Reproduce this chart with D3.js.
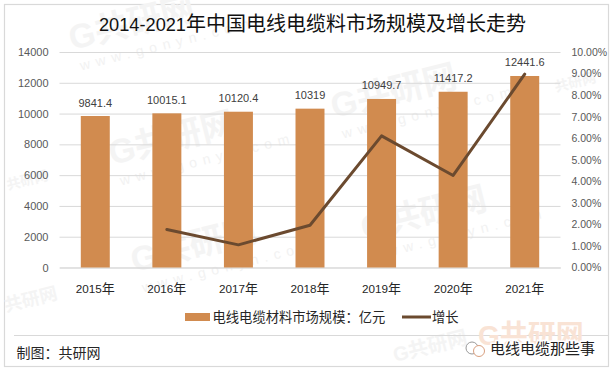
<!DOCTYPE html>
<html><head><meta charset="utf-8">
<script src="https://cdn.jsdelivr.net/npm/d3@7/dist/d3.min.js"></script>
<style>html,body{margin:0;padding:0;background:#fff}svg{display:block}
text{font-family:"Liberation Sans","Noto Sans CJK SC",sans-serif}</style>
</head><body><div id="c"></div>
<script>
const years=["2015年","2016年","2017年","2018年","2019年","2020年","2021年"];
const marketSize=[9841.4,10015.1,10120.4,10319,10949.7,11417.2,12441.6];
const marketLabels=["9841.4","10015.1","10120.4","10319","10949.7","11417.2","12441.6"];
const growthYears=["2016年","2017年","2018年","2019年","2020年","2021年"];
const growth=[1.76,1.05,1.96,6.11,4.27,8.97];
const leftTicks=[0,2000,4000,6000,8000,10000,12000,14000];
const rightTicks=[0,1,2,3,4,5,6,7,8,9,10];
const titleLatin="2014-2021";
const titleCjk="年中国电线电缆料市场规模及增长走势";
const seriesNames=["电线电缆材料市场规模：亿元","增长"];
const source="制图：共研网";
const credit="电线电缆那些事";
const wmMain="G共研网";
const wmUrl="www.gonyn.com";
const wmMarks=[[72,50,34],[112,165,34],[134,272,34],[334,118,34],[364,240,34],[6,312,18],[556,92,14],[395,362,20],[8,190,14]];

const W=615,H=375,barCol="#d18b4f",lineCol="#6b4a2f";
const svg=d3.select("#c").append("svg").attr("width",W).attr("height",H);
svg.append("rect").attr("x",4.5).attr("y",4.5).attr("width",604).attr("height",362)
  .attr("fill","#fff").attr("stroke","#d9d9d9").attr("stroke-width",1.2);

// watermarks
const wm=svg.append("g").attr("pointer-events","none");
wmMarks.forEach(([x,y,s])=>{
  const g=wm.append("g").attr("transform",`translate(${x},${y}) rotate(-14)`);
  g.append("text").attr("font-size",s).attr("font-weight",700).attr("fill","#f4f4f4").text(s<20?wmMain.slice(1):wmMain);
  if(s>30) g.append("text").attr("y",22).attr("x",4).attr("font-size",14).attr("letter-spacing",6).attr("fill","#f2f2f2").text(wmUrl);
});

const m={l:59.5,r:560.5,t:52,b:267.5};
const x=d3.scaleBand().domain(years).range([m.l,m.r]).paddingInner(0.595).paddingOuter(0.2975);
const y=d3.scaleLinear().domain([0,14000]).range([m.b,m.t]);
const y2=d3.scaleLinear().domain([0,10]).range([m.b,m.t]);
const cx=d=>x(d)+x.bandwidth()/2;

const t=svg.append("text").attr("x",312.5).attr("y",31).attr("text-anchor","middle").attr("font-size",20).attr("fill","#111");
t.append("tspan").attr("font-size",18.2).text(titleLatin);
t.append("tspan").text(titleCjk);

const gl=svg.append("g").attr("transform",`translate(${m.l},0)`)
  .call(d3.axisLeft(y).tickValues(leftTicks).tickSize(-(m.r-m.l)).tickPadding(11).tickFormat(d3.format("d")));
gl.select(".domain").remove();
gl.selectAll("line").attr("stroke","#d9d9d9").attr("stroke-width",1);
gl.selectAll("text").attr("font-size",11).attr("fill","#595959");

const gr=svg.append("g").attr("transform",`translate(${m.r},0)`)
  .call(d3.axisRight(y2).tickValues(rightTicks).tickSize(0).tickPadding(11).tickFormat(d=>d3.format(".2f")(d)+"%"));
gr.select(".domain").remove();
gr.selectAll("text").attr("font-size",10.5).attr("fill","#595959");

const gx=svg.append("g").attr("transform",`translate(0,${m.b})`)
  .call(d3.axisBottom(x).tickSize(0).tickPadding(16));
gx.select(".domain").attr("stroke","#d9d9d9");
gx.selectAll("text").attr("font-size",13).attr("fill","#262626")
  .each(function(d){
    const s=d3.select(this).text("");
    s.append("tspan").attr("font-size",11.7).text(d.slice(0,4));
    s.append("tspan").text(d.slice(4));
  });

svg.append("g").selectAll("rect").data(years).join("rect")
  .attr("x",d=>x(d)).attr("width",x.bandwidth())
  .attr("y",(d,i)=>y(marketSize[i])).attr("height",(d,i)=>m.b-y(marketSize[i])).attr("fill",barCol);

svg.append("g").selectAll("text").data(years).join("text")
  .attr("x",cx).attr("y",(d,i)=>y(marketSize[i])-9.5).attr("text-anchor","middle")
  .attr("font-size",11).attr("fill","#404040").text((d,i)=>marketLabels[i]);

svg.append("path").datum(growth)
  .attr("d",d3.line().x((d,i)=>cx(growthYears[i])).y(d=>y2(d)))
  .attr("fill","none").attr("stroke",lineCol).attr("stroke-width",3).attr("stroke-linejoin","round").attr("stroke-linecap","round");

// legend
const ly=317;
svg.append("rect").attr("x",185).attr("y",ly-4).attr("width",25).attr("height",8).attr("fill",barCol);
svg.append("text").attr("x",212.5).attr("y",ly+5).attr("font-size",13.3).attr("fill","#262626").text(seriesNames[0]);
svg.append("line").attr("x1",402).attr("x2",431).attr("y1",ly).attr("y2",ly).attr("stroke",lineCol).attr("stroke-width",3);
svg.append("text").attr("x",432).attr("y",ly+5).attr("font-size",13.3).attr("fill","#262626").text(seriesNames[1]);

svg.append("line").attr("x1",14).attr("x2",609).attr("y1",335.5).attr("y2",335.5).attr("stroke","#d9d9d9");
svg.append("text").attr("x",16.5).attr("y",358).attr("font-size",14).attr("fill","#262626").text(source);

// credit
svg.append("text").attr("x",478).attr("y",345).attr("font-size",28).attr("font-weight",700).attr("fill","#f9e3d5").text(wmMain);
svg.append("text").attr("x",490).attr("y",354).attr("font-size",15).attr("fill","#222").attr("stroke","#fff").attr("stroke-width",3).attr("paint-order","stroke").text(credit);
svg.append("circle").attr("cx",465+7).attr("cy",348).attr("r",6).attr("fill","#fff").attr("stroke","#999");
svg.append("circle").attr("cx",479).attr("cy",351).attr("r",5.5).attr("fill","#fff").attr("stroke","#d9a080");
</script></body></html>
